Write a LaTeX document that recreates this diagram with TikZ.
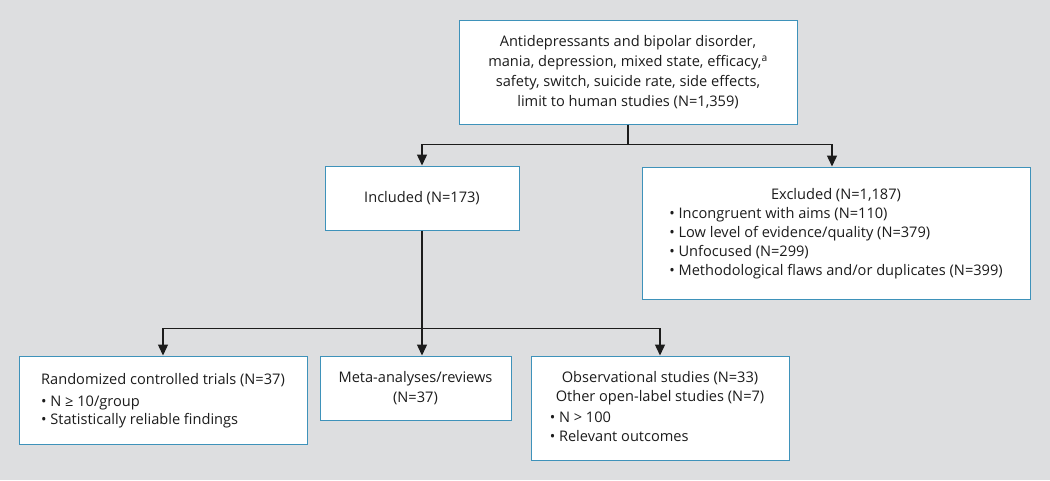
\documentclass[tikz,border=0pt]{standalone}
\usepackage{fontspec}
\setmainfont{Open Sans}
\usetikzlibrary{arrows.meta,positioning,calc}
\definecolor{bg}{RGB}{221,222,224}
\definecolor{boxline}{RGB}{62,146,186}
\definecolor{ink}{RGB}{28,28,28}
\begin{document}
\begin{tikzpicture}[x=1pt,y=-1pt,
  box/.style={draw=boxline,line width=1pt,fill=white,inner sep=0pt,anchor=center,
    font=\fontsize{14.6}{20}\selectfont,text=ink},
  conn/.style={draw=ink,line width=1.4pt},
  arr/.style={conn,-{Triangle[length=11pt,width=10pt]}}]
\fill[bg] (0,0) rectangle (1050,480);
\useasboundingbox (0,0) rectangle (1050,480);

\node[box,minimum width=338pt,minimum height=104pt,align=center] (top) at (628,72)
 {Antidepressants and bipolar disorder,\\mania, depression, mixed state, efficacy,\textsuperscript{a}\\safety, switch, suicide rate, side effects,\\limit to human studies (N=1,359)};

\node[box,minimum width=194pt,minimum height=64pt] (inc) at (422,198) {Included (N=173)};

\node[box,minimum width=388pt,minimum height=132pt] (exc) at (836,233)
 {\begin{tabular}{@{}l@{}}\multicolumn{1}{c}{Excluded (N=1,187)}\\[-1pt]
 • Incongruent with aims (N=110)\\[-1pt]
 • Low level of evidence/quality (N=379)\\[-1pt]
 • Unfocused (N=299)\\[-1pt]
 • Methodological flaws and/or duplicates (N=399)\end{tabular}};

\node[box,minimum width=288pt,minimum height=88pt] (rct) at (163,400)
 {\begin{tabular}{@{}l@{}}Randomized controlled trials (N=37)\\[2pt]
 • N ≥ 10/group\\[-2pt]
 • Statistically reliable findings\end{tabular}};

\node[box,minimum width=191pt,minimum height=64pt,align=center] (meta) at (415.5,388)
 {Meta-analyses/reviews\\(N=37)};

\node[box,minimum width=258pt,minimum height=104pt] (obs) at (660,408)
 {\begin{tabular}{@{}l@{}}\multicolumn{1}{c}{Observational studies (N=33)}\\[-1pt]
 \multicolumn{1}{c}{Other open-label studies (N=7)}\\[1pt]
 • N > 100\\[-1pt]
 • Relevant outcomes\end{tabular}};

% connectors
\coordinate (j1) at ($(top.south)+(0,20)$);
\coordinate (excin) at ($(exc.north)+(-4,0)$);
\draw[conn] (top.south) -- (j1);
\draw[arr] (j1) -| (inc.north);
\draw[arr] (j1) -| (excin);

\coordinate (j2) at ($(inc.south)+(0,98)$);
\coordinate (metain) at (inc.south |- meta.north);
\draw[arr] (inc.south) -- (metain);
\draw[arr] (j2) -| (rct.north);
\draw[arr] (j2) -| (obs.north);
\end{tikzpicture}
\end{document}
